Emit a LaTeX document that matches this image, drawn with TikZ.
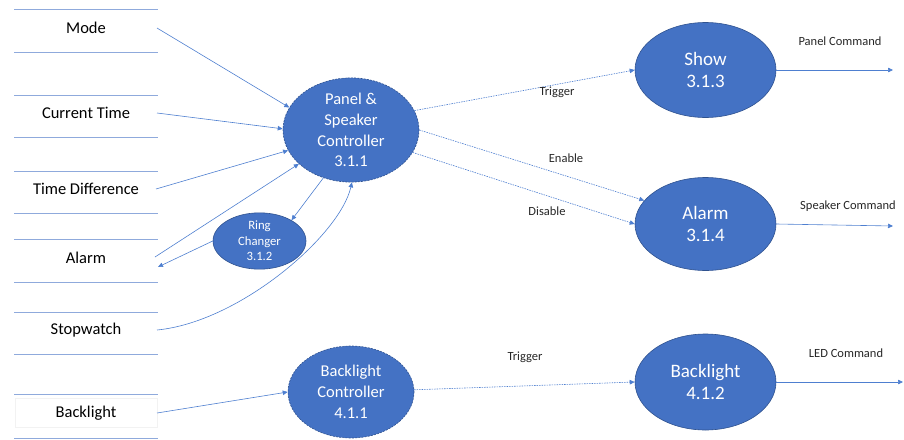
\documentclass[tikz,border=0pt]{standalone}
\usepackage{fontspec}
\setmainfont{Carlito}
\usetikzlibrary{shapes.geometric,arrows.meta}
\definecolor{procblue}{HTML}{4472C4}
\definecolor{procedge}{HTML}{2F528F}
\definecolor{storeline}{HTML}{8FAADC}
\definecolor{flowline}{HTML}{4E7FD0}
\definecolor{labeltext}{HTML}{262626}
\tikzset{
  proc/.style={ellipse, fill=procblue, draw=procedge, line width=0.6pt,
    text=white, align=center, inner sep=0pt},
  ctrl/.style={proc, dash pattern=on 2pt off 1.2pt},
  storeline/.style={draw=storeline, line width=0.8pt},
  storetext/.style={font=\fontsize{16.5}{20}\selectfont, text=black, inner sep=0pt},
  flow/.style={draw=flowline, line width=0.6pt, -{Triangle[length=5pt,width=4.5pt]}},
  signal/.style={flow, dash pattern=on 1.5pt off 1pt},
  flowlabel/.style={font=\fontsize{12.5}{15}\selectfont, text=labeltext, inner sep=0pt}
}
\begin{document}
\begin{tikzpicture}[x=1pt,y=-1pt]
\useasboundingbox (0,0) rectangle (904,439);

% data stores: a pair of rules with the store name between them
\foreach \top/\bot in {9/52, 95/137, 171/213, 239/282, 312/354, 394/438}
  \draw[storeline] (14,\top) -- (158,\top) (14,\bot) -- (158,\bot);
\draw[draw=black!5, line width=0.4pt] (15,398) rectangle (157,427);
\node[storetext] (mode)  at (86,28)  {Mode};
\node[storetext] (ctime) at (86,113) {Current Time};
\node[storetext] (tdiff) at (86,189) {Time Difference};
\node[storetext] (alarm) at (86,258) {Alarm};
\node[storetext] (stopw) at (86,330) {Stopwatch};
\node[storetext] (blite) at (86,413) {Backlight};

\coordinate (modeR)  at (157,28);
\coordinate (ctimeR) at (157,113);
\coordinate (tdiffR) at (156,189);
\coordinate (alarmR) at (155,257);
\coordinate (alarmIn) at (158,267);
\coordinate (stopwR) at (157,330);
\coordinate (bliteR) at (157,413);

% processes
\node[ctrl, minimum width=136pt, minimum height=94pt,
      font=\fontsize{16.5}{20.7}\selectfont] (psc) at (351,130)
      {Panel \&\\Speaker\\Controller\\3.1.1};
\node[proc, minimum width=93pt, minimum height=54pt,
      font=\fontsize{12.7}{15.5}\selectfont] (ring) at (259.5,241)
      {Ring\\Changer\\3.1.2};
\node[ctrl, minimum width=126pt, minimum height=92pt,
      font=\fontsize{16.5}{20.7}\selectfont] (blc) at (351,392)
      {Backlight\\Controller\\4.1.1};
\node[proc, minimum width=141pt, minimum height=95pt,
      font=\fontsize{19}{22.7}\selectfont] (show) at (705.5,70)
      {Show\\3.1.3};
\node[proc, minimum width=141pt, minimum height=93pt,
      font=\fontsize{19}{22.7}\selectfont] (alrm) at (705.5,224)
      {Alarm\\3.1.4};
\node[proc, minimum width=141pt, minimum height=96pt,
      font=\fontsize{19}{22.7}\selectfont] (blp) at (705.5,382)
      {Backlight\\4.1.2};

% free ends of the output flows
\coordinate (panelOut)   at (893,70);
\coordinate (speakerOut) at (893,226);
\coordinate (ledOut)     at (903,382);

% inputs from the stores
\draw[flow] (modeR)  -- (psc.160);
\draw[flow] (ctimeR) -- (psc.179);
\draw[flow] (tdiffR) -- (psc.198);
\draw[flow] (alarmR) -- (psc.213);
\draw[flow] (stopwR) .. controls (240,322) and (340,235) .. (psc.271);
\draw[flow] (bliteR) -- (blc.180);

% ring changer loop
\draw[flow] (psc.240) -- (ring.33);
\draw[flow] (ring.180) -- (alarmIn);

% control signals
\draw[signal] (psc.17)  -- (show.180);
\draw[signal] (psc.0)   -- (alrm.159);
\draw[signal] (psc.340) -- (alrm.180);
\draw[signal] (blc.2)   -- (blp.180);
\node[flowlabel] (trigA) at (557,92)  {Trigger};
\node[flowlabel] (enab)  at (566,158) {Enable};
\node[flowlabel] (disab) at (547,211) {Disable};
\node[flowlabel] (trigB) at (525,357) {Trigger};

% outputs
\draw[flow] (show.0) -- (panelOut);
\draw[flow] (alrm.0) -- (speakerOut);
\draw[flow] (blp.0)  -- (ledOut);
\node[flowlabel] (pcmd) at (840,41)  {Panel Command};
\node[flowlabel] (scmd) at (848,206) {Speaker Command};
\node[flowlabel] (lcmd) at (846,353) {LED Command};
\end{tikzpicture}
\end{document}
